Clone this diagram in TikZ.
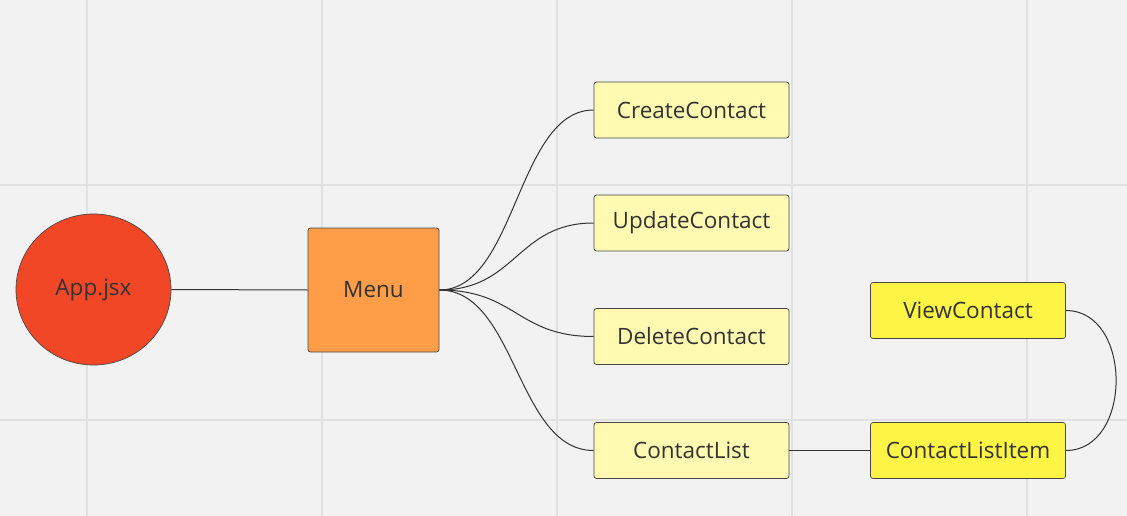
\documentclass[tikz,border=0pt]{standalone}
\usepackage{fontspec}
\usetikzlibrary{shapes.geometric}
\setmainfont{Open Sans}
\definecolor{bg}{HTML}{F2F2F2}
\definecolor{gridc}{HTML}{E1E1E1}
\definecolor{appc}{HTML}{F24726}
\definecolor{menuc}{HTML}{FF9D48}
\definecolor{lightyel}{HTML}{FFF9B1}
\definecolor{brightyel}{HTML}{FEF445}
\definecolor{ink}{HTML}{333333}
\begin{document}
\begin{tikzpicture}[x=1pt,y=-1pt,
  base/.style={draw=ink!90, line width=0.7pt, text=ink, font=\fontsize{22.5}{24}\selectfont, inner sep=0pt},
  box/.style={base, rounded corners=2.5pt, minimum width=195pt, minimum height=56pt},
  lbox/.style={box, fill=lightyel},
  ybox/.style={box, fill=brightyel},
  link/.style={draw=ink, line width=1pt}]
\fill[bg] (0,0) rectangle (1127,516);
\useasboundingbox (0,0) rectangle (1127,516);
\foreach \gx in {87,322,557,792,1027} \draw[gridc, line width=1.3pt] (\gx,0) -- (\gx,516);
\foreach \gy in {185,420} \draw[gridc, line width=1.3pt] (0,\gy) -- (1127,\gy);

\node[base, ellipse, fill=appc, minimum width=155pt, minimum height=151pt] (app) at (93.5,289.5) {App.jsx};
\node[base, rounded corners=2.5pt, fill=menuc, minimum width=131pt, minimum height=124pt] (menu) at (373.5,290) {Menu};
\node[lbox] (create) at (691.5,110) {CreateContact};
\node[lbox] (update) at (691.5,223) {UpdateContact};
\node[lbox] (delete) at (691.5,336.5) {DeleteContact};
\node[lbox] (clist) at (691.5,450.5) {ContactList};
\node[ybox] (view) at (968,310.5) {ViewContact};
\node[ybox] (item) at (968,450.5) {ContactListItem};

\draw[link] (app.east) -- (menu.west);
\draw[link] (menu.east) .. controls +(77,0) and +(-77,0) .. (create.west);
\draw[link] (menu.east) .. controls +(77,0) and +(-77,0) .. (update.west);
\draw[link] (menu.east) .. controls +(77,0) and +(-77,0) .. (delete.west);
\draw[link] (menu.east) .. controls +(77,0) and +(-77,0) .. (clist.west);
\draw[link] (clist.east) -- (item.west);
\draw[link] (item.east) .. controls +(67,0) and +(67,0) .. (view.east);
\end{tikzpicture}
\end{document}
